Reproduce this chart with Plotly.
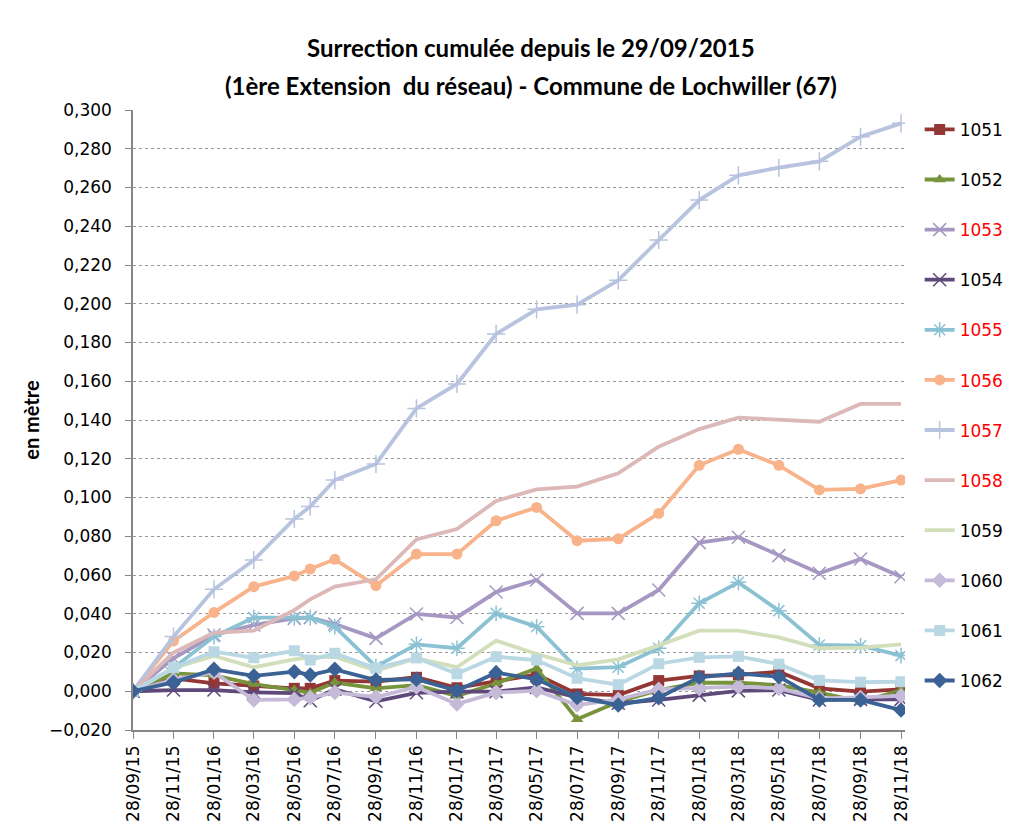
#Surrection cumulee - Lochwiller : courbes par repere

import plotly.graph_objects as go

dates = ["2015-09-28", "2015-11-28", "2016-01-28", "2016-03-28", "2016-05-28", "2016-06-21",
         "2016-07-28", "2016-09-28", "2016-11-28", "2017-01-28", "2017-03-28", "2017-05-28",
         "2017-07-28", "2017-09-28", "2017-11-28", "2018-01-28", "2018-03-28", "2018-05-28",
         "2018-07-28", "2018-09-28", "2018-11-28"]

tick_dates = ["2015-09-28", "2015-11-28", "2016-01-28", "2016-03-28", "2016-05-28", "2016-07-28",
              "2016-09-28", "2016-11-28", "2017-01-28", "2017-03-28", "2017-05-28", "2017-07-28",
              "2017-09-28", "2017-11-28", "2018-01-28", "2018-03-28", "2018-05-28", "2018-07-28",
              "2018-09-28", "2018-11-28"]
tick_labels = ["28/09/15", "28/11/15", "28/01/16", "28/03/16", "28/05/16", "28/07/16",
               "28/09/16", "28/11/16", "28/01/17", "28/03/17", "28/05/17", "28/07/17",
               "28/09/17", "28/11/17", "28/01/18", "28/03/18", "28/05/18", "28/07/18",
               "28/09/18", "28/11/18"]

r1051 = [0, 0.0066, 0.0041, 0.0027, 0.0015, 0.0015, 0.0055, 0.005, 0.0072, 0.0018, 0.005,
         0.0086, -0.0014, -0.002, 0.0055, 0.0079, 0.0084, 0.0101, 0.0015, -0.0002, 0.001]
r1052 = [0, 0.0092, 0.0082, 0.0037, 0.0006, -0.0008, 0.0045, 0.0015, 0.0032, -0.0024, 0.004,
         0.0118, -0.0144, -0.0054, 0.0006, 0.0044, 0.0044, 0.0032, -0.0007, -0.0054, 0.0005]
r1053 = [0, 0.017, 0.029, 0.0342, 0.0376, 0.038, 0.0347, 0.0273, 0.0399, 0.0381, 0.0512,
         0.0574, 0.0402, 0.0402, 0.0523, 0.0767, 0.0795, 0.07, 0.0609, 0.0683, 0.0591]
r1054 = [0, 0.0006, 0.0006, -0.0006, -0.001, -0.0049, 0.001, -0.0052, -0.0008, -0.0002, -0.0002,
         0.002, -0.0032, -0.0062, -0.0045, -0.002, 0.0002, 0.0006, -0.0045, -0.0042, -0.0042]
r1055 = [0, 0.012, 0.0282, 0.038, 0.038, 0.038, 0.0333, 0.0127, 0.0242, 0.0222, 0.0402,
         0.0333, 0.0117, 0.0124, 0.0222, 0.0454, 0.0562, 0.0416, 0.0239, 0.0235, 0.0184]
r1056 = [0, 0.0259, 0.0407, 0.054, 0.0595, 0.0631, 0.0681, 0.0545, 0.0708, 0.0708, 0.088,
         0.0949, 0.0777, 0.0787, 0.0918, 0.1166, 0.1249, 0.1166, 0.1039, 0.1045, 0.109]
r1057 = [0, 0.0282, 0.0526, 0.0677, 0.0889, 0.0953, 0.109, 0.1173, 0.146, 0.1586, 0.1844,
         0.1971, 0.1995, 0.2121, 0.2329, 0.2535, 0.2663, 0.2702, 0.2735, 0.2862, 0.2931]
r1058 = [0, 0.0199, 0.0302, 0.0313, 0.0419, 0.0474, 0.054, 0.0578, 0.0784, 0.0837, 0.0982,
         0.1042, 0.1056, 0.1125, 0.1262, 0.1353, 0.1412, 0.1403, 0.1391, 0.1483, 0.1483]
r1059 = [0, 0.012, 0.0182, 0.0124, 0.0165, 0.0175, 0.0178, 0.0106, 0.017, 0.0124, 0.0261,
         0.0192, 0.0134, 0.0165, 0.0237, 0.0313, 0.0313, 0.0278, 0.0222, 0.0225, 0.0242]
r1060 = [0, 0.006, 0.0098, -0.0045, -0.0042, -0.0033, -0.0006, -0.003, 0.0022, -0.0066, -0.0007,
         0.0003, -0.0071, -0.0042, 0.001, 0.0015, 0.0024, 0.0015, -0.0037, -0.0032, -0.0024]
r1061 = [0, 0.0122, 0.0204, 0.0173, 0.0209, 0.0161, 0.0196, 0.0118, 0.0172, 0.009, 0.0178,
         0.0161, 0.0067, 0.0034, 0.0142, 0.0175, 0.018, 0.014, 0.0056, 0.0047, 0.0049]
r1062 = [0, 0.0046, 0.0113, 0.0079, 0.0101, 0.0084, 0.0113, 0.0058, 0.0062, 0.0003, 0.0096,
         0.0062, -0.0032, -0.0071, -0.0033, 0.0072, 0.0092, 0.0075, -0.0045, -0.0045, -0.0097]

# (nom, valeurs, couleur, symbole, nom en rouge ?)
series = [
    ("1051", r1051, "#943634", "square", False),
    ("1052", r1052, "#77933C", "triangle-up", False),
    ("1053", r1053, "#A698C3", "x-thin", True),
    ("1054", r1054, "#5F497A", "x-thin", False),
    ("1055", r1055, "#8AC2D4", "asterisk", True),
    ("1056", r1056, "#F8B38B", "circle", True),
    ("1057", r1057, "#B7C3DF", "cross-thin", True),
    ("1058", r1058, "#DDB8B8", None, True),
    ("1059", r1059, "#D3DFBA", None, False),
    ("1060", r1060, "#C5BAD8", "diamond", False),
    ("1061", r1061, "#B9D8E3", "square", False),
    ("1062", r1062, "#3A6294", "diamond", False),
]

title_lines = ["Surrection cumulée depuis le 29/09/2015",
               "(1ère Extension  du réseau) - Commune de Lochwiller (67)"]

fig = go.Figure()
for name, vals, col, sym, red in series:
    label = "<span style='color:#FF0000'>%s</span>" % name if red else name
    tr = dict(x=dates, y=vals, name=label, legendgroup=name,
              line=dict(color=col, width=3.8))
    if sym is None:
        tr["mode"] = "lines"
    else:
        tr["mode"] = "lines+markers"
        if sym in ("x-thin", "cross-thin", "asterisk"):
            tr["marker"] = dict(symbol=sym + "-open" if sym == "asterisk" else sym, size=13,
                                color=col, line=dict(color=col, width=1.5))
        else:
            tr["marker"] = dict(symbol=sym, size=11 if sym != "diamond" else 12, color=col)
    fig.add_trace(go.Scatter(**tr))

# la page ajoute 8 px de marge : figure un peu plus petite
fig.update_layout(
    width=1027, height=829,
    paper_bgcolor="white", plot_bgcolor="white",
    separators=", ",
    margin=dict(l=125, r=130, t=102, b=107),
    font=dict(family="DejaVu Sans", size=17, color="black"),
    legend=dict(x=1.019, xanchor="left", y=0.997, yanchor="top",
                font=dict(family="DejaVu Sans", size=17), tracegroupgap=25,
                maxheight=800, itemwidth=30, bgcolor="rgba(0,0,0,0)"),
    showlegend=True,
)

# titre sur deux lignes (interligne plus grand que celui de plotly)
for txt, ypos in zip(title_lines, [1.1016, 1.0403]):
    fig.add_annotation(text="<b>%s</b>" % txt, xref="paper", yref="paper",
                       x=0.5155, y=ypos, xanchor="center", yanchor="middle",
                       showarrow=False, font=dict(family="Lato", size=24, color="black"))

fig.update_xaxes(type="date", range=["2015-09-28", "2018-12-04"],
                 tickvals=tick_dates, ticktext=tick_labels, tickangle=-90,
                 showline=True, linecolor="#868686", linewidth=1.5,
                 ticks="outside", ticklen=7, tickcolor="#868686",
                 showgrid=False, zeroline=False,
                 tickfont=dict(family="DejaVu Sans", size=17))
fig.update_yaxes(range=[-0.02, 0.30], dtick=0.02, tick0=0, tickformat=".3f",
                 showline=True, linecolor="#868686", linewidth=1.5,
                 ticks="outside", ticklen=6, tickcolor="#868686", ticklabelstandoff=10,
                 showgrid=True, gridcolor="#9A9A9A", griddash="dot", gridwidth=1,
                 zeroline=False,
                 title=dict(text="<b>en mètre</b>", font=dict(family="Lato", size=20), standoff=4),
                 tickfont=dict(family="DejaVu Sans", size=17))

# cadre du graphique
fig.add_shape(type="rect", xref="paper", yref="paper",
              x0=-0.1697, x1=1.18, y0=-0.18, y1=1.174,
              line=dict(color="#BFBFBF", width=1.5), fillcolor="rgba(0,0,0,0)", layer="below")

fig.write_html("out.html")
